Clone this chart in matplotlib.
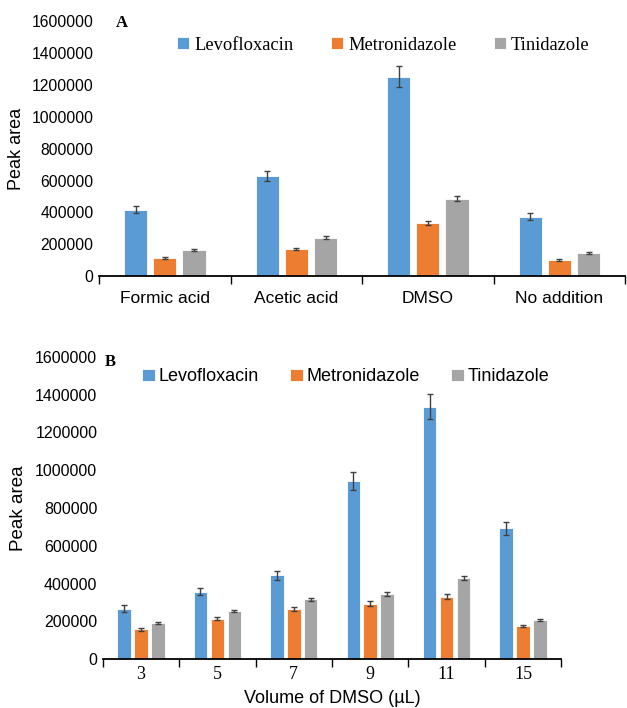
import numpy as np
import matplotlib
matplotlib.use("Agg")
import matplotlib.pyplot as plt
from matplotlib.ticker import FixedLocator

# panel A: additive
additives = ["Formic acid", "Acetic acid", "DMSO", "No addition"]
levo_a = [418000, 627000, 1253000, 374000]
metro_a = [113000, 169000, 336000, 100000]
tini_a = [163000, 242000, 487000, 144000]
levo_a_err = [22000, 31000, 64000, 21000]
metro_a_err = [7000, 8000, 12000, 6000]
tini_a_err = [7000, 9000, 17000, 7000]

# panel B: DMSO volume
volumes = ["3", "5", "7", "9", "11", "15"]
levo_b = [268000, 356000, 444000, 944000, 1336000, 692000]
metro_b = [159000, 213000, 266000, 294000, 331000, 176000]
tini_b = [190000, 255000, 317000, 344000, 428000, 208000]
levo_b_err = [17000, 19000, 24000, 47000, 65000, 33000]
metro_b_err = [8000, 8000, 10000, 12000, 12000, 7000]
tini_b_err = [6000, 7000, 8000, 10000, 10000, 7000]

names = ["Levofloxacin", "Metronidazole", "Tinidazole"]
colors = ["#5B9BD5", "#ED7D31", "#A5A5A5"]
SANS = "Liberation Sans"
SERIF = "Liberation Serif"


def draw(ax, cats, series, errs, xfont, xsize, xpad):
    x = np.arange(len(cats))
    w = 0.176
    off = 0.222
    for k, (vals, err) in enumerate(zip(series, errs)):
        ax.bar(x + (k - 1) * off, vals, w, color=colors[k], edgecolor="white",
               linewidth=0.6, yerr=err, capsize=2.5,
               error_kw=dict(ecolor="#404040", elinewidth=1.0, capthick=1.0),
               label=names[k], zorder=2)
    ax.set_xlim(-0.5, len(cats) - 0.5)
    ax.set_ylim(0, 1600000)
    ax.set_yticks(np.arange(0, 1600001, 200000))
    ax.ticklabel_format(axis="y", style="plain", useOffset=False)
    ax.set_xticks(x)
    ax.set_xticklabels(cats, family=xfont, fontsize=xsize)
    ax.xaxis.set_minor_locator(FixedLocator(np.arange(-0.5, len(cats), 1.0)))
    ax.tick_params(axis="x", which="major", length=0, pad=xpad)
    ax.tick_params(axis="x", which="minor", length=6, width=1.0)
    ax.tick_params(axis="y", length=0, pad=4)
    for s in ["top", "right", "left"]:
        ax.spines[s].set_visible(False)
    ax.spines["bottom"].set_linewidth(1.3)


fig = plt.figure(figsize=(6.27, 7.08), dpi=100)

# top panel
ax1 = fig.add_axes([0.158, 0.610, 0.839, 0.360])
draw(ax1, additives, [levo_a, metro_a, tini_a], [levo_a_err, metro_a_err, tini_a_err],
     SANS, 12.5, 11)
for t in ax1.get_yticklabels():
    t.set_family(SANS)
    t.set_fontsize(11.3)
ax1.set_ylabel("Peak area", family=SANS, fontsize=13, labelpad=5)
ax1.text(116 / 627, 1 - 23 / 708, "A", transform=fig.transFigure, family=SERIF,
         fontweight="bold", fontsize=12, va="center")
ax1.legend(loc="center left", bbox_to_anchor=(168 / 627, 1 - 45 / 708),
           bbox_transform=fig.transFigure, ncol=3, frameon=False,
           prop=dict(family=SERIF, size=13.3), handlelength=0.65, handleheight=0.65,
           handletextpad=0.3, columnspacing=2.0, borderpad=0)

# bottom panel
ax2 = fig.add_axes([0.164, 0.069, 0.731, 0.427])
draw(ax2, volumes, [levo_b, metro_b, tini_b], [levo_b_err, metro_b_err, tini_b_err],
     SERIF, 13, 5)
for t in ax2.get_yticklabels():
    t.set_family(SANS)
    t.set_fontsize(11.5)
ax2.set_ylabel("Peak area", family=SANS, fontsize=13.5, labelpad=6)
ax2.set_xlabel("Volume of DMSO (µL)", family=SANS, fontsize=13, labelpad=5)
ax2.text(105 / 627, 1 - 362 / 708, "B", transform=fig.transFigure, family=SERIF,
         fontweight="bold", fontsize=12, va="center")
ax2.legend(loc="center left", bbox_to_anchor=(133 / 627, 1 - 377 / 708),
           bbox_transform=fig.transFigure, ncol=3, frameon=False,
           prop=dict(family=SANS, size=13), handlelength=0.7, handleheight=0.7,
           handletextpad=0.2, columnspacing=1.75, borderpad=0)

fig.savefig("out.png", dpi=100)
